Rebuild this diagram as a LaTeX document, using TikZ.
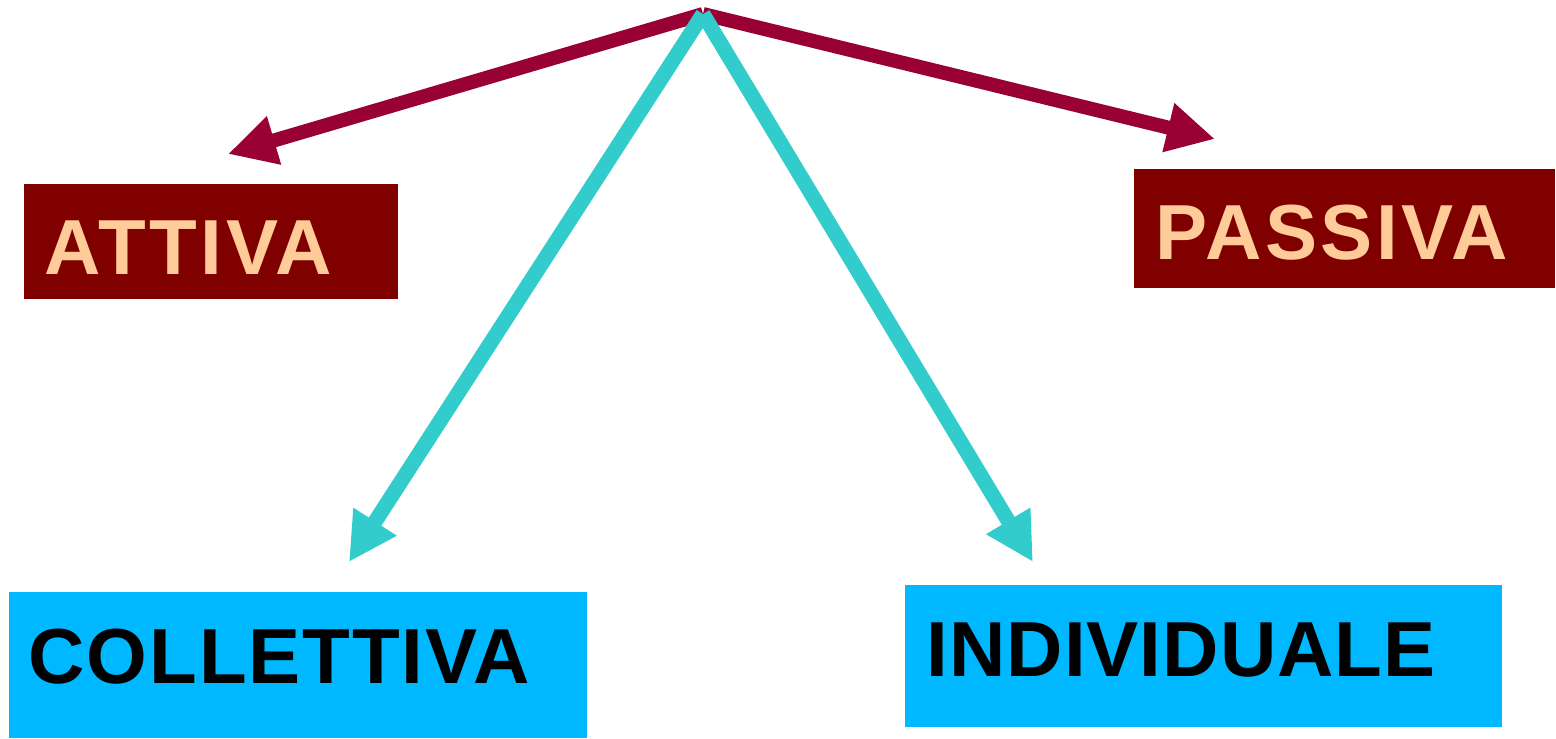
\documentclass[tikz,border=0pt]{standalone}
\usepackage{fontspec}
\setmainfont{Liberation Sans}
\usetikzlibrary{arrows.meta}
\definecolor{arrred}{RGB}{153,0,51}
\definecolor{arrteal}{RGB}{51,204,204}
\definecolor{boxred}{RGB}{128,0,0}
\definecolor{boxblue}{RGB}{0,184,255}
\definecolor{peach}{RGB}{255,204,153}
\tikzset{
  rbox/.style={rectangle, fill=boxred, draw=none, inner sep=0pt},
  bbox/.style={rectangle, fill=boxblue, draw=none, inner sep=0pt},
  rtext/.style={anchor=base west, inner sep=0pt, text=peach, font=\fontsize{22.2pt}{26pt}\selectfont\bfseries},
  btext/.style={anchor=base west, inner sep=0pt, text=black, font=\fontsize{22.2pt}{26pt}\selectfont\bfseries},
  redarrow/.style={draw=arrred, line width=0.14cm, -{Triangle[length=0.48cm,width=0.47cm]}},
  tealarrow/.style={draw=arrteal, line width=0.15cm, -{Triangle[length=0.48cm,width=0.48cm]}}
}
\begin{document}
\begin{tikzpicture}[x=0.01cm, y=-0.01cm]
\useasboundingbox (0,0) rectangle (1556,738);
% boxes
\node[rbox, minimum width=3.74cm, minimum height=1.15cm] (attiva) at (211,241.5) {};
\node[rbox, minimum width=4.21cm, minimum height=1.19cm] (passiva) at (1344.5,228.5) {};
\node[bbox, minimum width=5.78cm, minimum height=1.46cm] (collettiva) at (298,665) {};
\node[bbox, minimum width=5.97cm, minimum height=1.42cm] (individuale) at (1203.5,656) {};
% texts
\node[rtext] (tattiva) at (44,274) {\addfontfeatures{LetterSpace=4.4}ATTIVA};
\node[rtext] (tpassiva) at (1155,259) {\addfontfeatures{LetterSpace=4.5}PASSIVA};
\node[btext] (tcollettiva) at (28,683) {\addfontfeatures{LetterSpace=2.4}COLLETTIVA};
\node[btext] (tindividuale) at (926,676) {\addfontfeatures{LetterSpace=1.3}INDIVIDUALE};
% arrow endpoints
\coordinate (top) at (703,14);
\coordinate (tipA) at (228,154);
\coordinate (tipP) at (1215,139);
\coordinate (tipC) at (349,562);
\coordinate (tipI) at (1033,562);
\draw[redarrow] (top) -- (tipA);
\draw[redarrow] (top) -- (tipP);
\draw[tealarrow] (top) -- (tipC);
\draw[tealarrow] (top) -- (tipI);
\end{tikzpicture}
\end{document}
